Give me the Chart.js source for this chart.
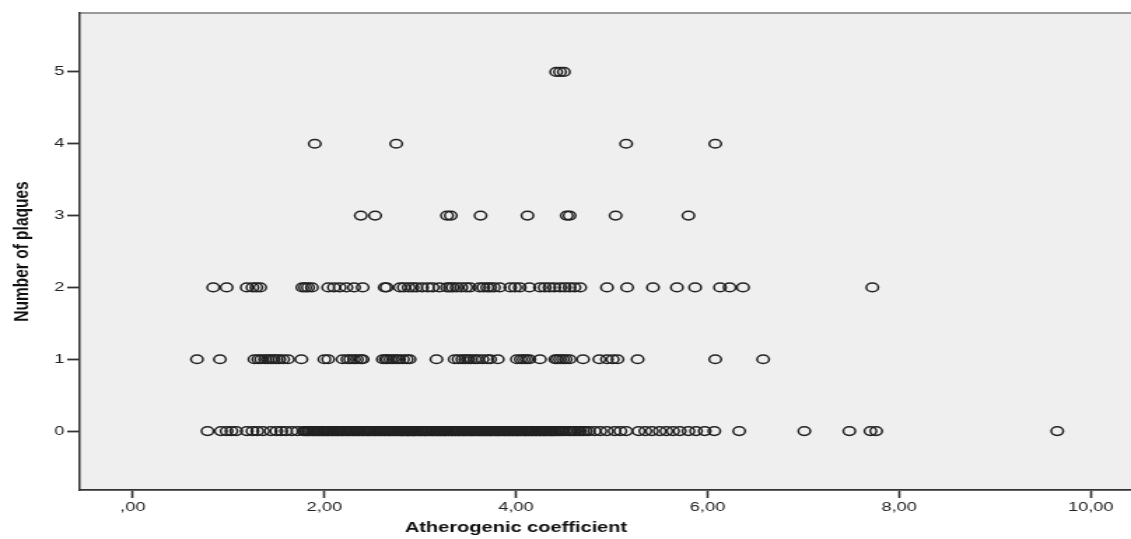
<!DOCTYPE html>
<html>
<head>
<meta charset="utf-8">
<script src="https://cdn.jsdelivr.net/npm/chart.js@4/dist/chart.umd.min.js"></script>
<style>
  html, body { margin: 0; padding: 0; background: #ffffff; overflow: hidden; }
  /* the reference is an SPSS plot stretched sideways, so draw narrow and stretch */
  #wrap {
    width: 808px;
    height: 539px;
    transform: scaleX(1.39975);
    transform-origin: 0 0;
  }
</style>
</head>
<body>
<div id="wrap"><canvas id="chart"></canvas></div>
<script>
/* Scatter: Atherogenic coefficient vs Number of plaques */

// x values (atherogenic coefficient) for each number of plaques
const plaques0 = [
  0.78, 0.92, 0.98, 1.03, 1.08, 1.19, 1.25, 1.30, 1.36, 1.44, 1.50, 1.55, 1.60, 1.66, 1.72, 1.78,
  1.80, 1.81, 1.83, 1.84, 1.86, 1.88, 1.89, 1.91, 1.93, 1.94, 1.96, 1.98, 1.99, 2.01, 2.03, 2.04,
  2.06, 2.08, 2.09, 2.11, 2.13, 2.14, 2.16, 2.18, 2.19, 2.21, 2.23, 2.25, 2.26, 2.28, 2.30, 2.31,
  2.33, 2.35, 2.36, 2.38, 2.40, 2.41, 2.43, 2.45, 2.46, 2.48, 2.50, 2.52, 2.53, 2.55, 2.57, 2.58,
  2.60, 2.62, 2.63, 2.65, 2.67, 2.68, 2.70, 2.72, 2.73, 2.75, 2.77, 2.79,
  2.80, 2.81, 2.82, 2.83, 2.85, 2.86, 2.87, 2.88, 2.89, 2.91, 2.92, 2.93, 2.94, 2.95, 2.97, 2.98,
  3.00, 3.01, 3.02, 3.04, 3.05, 3.06, 3.07, 3.09, 3.10, 3.12, 3.13, 3.14, 3.16, 3.17, 3.18, 3.20,
  3.21, 3.22, 3.24, 3.25, 3.26, 3.27, 3.29, 3.30, 3.32, 3.33, 3.34, 3.36, 3.37, 3.38, 3.40, 3.41,
  3.42, 3.44, 3.45, 3.46, 3.47, 3.49, 3.50, 3.52, 3.53, 3.54, 3.55, 3.57, 3.58, 3.60, 3.61, 3.62,
  3.64, 3.65, 3.66, 3.68, 3.69, 3.70, 3.72, 3.73, 3.74, 3.75, 3.77, 3.78, 3.80, 3.81, 3.82, 3.83,
  3.85, 3.86, 3.88, 3.89, 3.90, 3.92, 3.93, 3.94, 3.96, 3.97, 3.98, 4.00, 4.01, 4.02, 4.03, 4.05,
  4.06, 4.08, 4.09, 4.10, 4.11, 4.13, 4.14, 4.16, 4.17, 4.18, 4.20, 4.21, 4.22, 4.24, 4.25, 4.26,
  4.28, 4.29, 4.30, 4.31, 4.33, 4.34, 4.36, 4.37, 4.38, 4.40, 4.41, 4.43, 4.45, 4.47, 4.49, 4.52,
  4.55, 4.57, 4.60, 4.62, 4.65, 4.67, 4.70, 4.73,
  4.76, 4.82, 4.88, 4.95, 5.03, 5.09, 5.15, 5.28, 5.35, 5.42, 5.50, 5.57, 5.64, 5.71, 5.80, 5.88,
  5.97, 6.07, 6.33, 7.01, 7.48, 7.70, 7.76, 9.65
];
const plaques1 = [
  0.67, 0.91, 1.27, 1.31, 1.34, 1.38, 1.41, 1.44, 1.47, 1.50, 1.53, 1.57, 1.62, 1.76, 2.00, 2.04,
  2.19, 2.24, 2.27, 2.31, 2.34, 2.38, 2.40, 2.61, 2.64, 2.66, 2.69, 2.72, 2.75, 2.78, 2.82, 2.86,
  2.89, 3.17, 3.36, 3.40, 3.44, 3.47, 3.50, 3.53, 3.57, 3.60, 3.65, 3.70, 3.73, 3.81, 4.01, 4.05,
  4.08, 4.11, 4.14, 4.25, 4.41, 4.43, 4.46, 4.49, 4.52, 4.56, 4.70, 4.87, 4.95, 5.01, 5.06, 5.27,
  6.08, 6.58
];
const plaques2 = [
  0.84, 0.98, 1.19, 1.25, 1.29, 1.33, 1.77, 1.80, 1.83, 1.87, 2.04, 2.10, 2.16, 2.23, 2.31, 2.40,
  2.63, 2.65, 2.79, 2.83, 2.88, 2.92, 2.96, 3.02, 3.08, 3.13, 3.20, 3.28, 3.31, 3.34, 3.38, 3.43,
  3.48, 3.52, 3.62, 3.66, 3.70, 3.73, 3.77, 3.83, 3.94, 3.99, 4.04, 4.14, 4.25, 4.30, 4.35, 4.40,
  4.46, 4.51, 4.56, 4.61, 4.67, 4.95, 5.16, 5.43, 5.68, 5.87, 6.13, 6.23, 6.37, 7.72
];
const plaques3 = [2.38, 2.53, 3.28, 3.32, 3.63, 4.12, 4.53, 4.56, 5.04, 5.80];
const plaques4 = [1.90, 2.75, 5.15, 6.08];
const plaques5 = [4.42, 4.46, 4.50];

const plaqueCounts = [0, 1, 2, 3, 4, 5];
const plaqueGroups = [plaques0, plaques1, plaques2, plaques3, plaques4, plaques5];

const xTickValues = [0, 2, 4, 6, 8, 10];
const xTickLabels = [",00", "2,00", "4,00", "6,00", "8,00", "10,00"];
const yTickValues = [0, 1, 2, 3, 4, 5];
const yTickLabels = ["0", "1", "2", "3", "4", "5"];

const xTitle = "Atherogenic coefficient";
const yTitle = "Number of plaques";

// build point list
const points = [];
plaqueGroups.forEach((xs, i) => {
  xs.forEach((x) => points.push({ x: x, y: plaqueCounts[i] }));
});

const TICK_FONT = { family: "'Liberation Sans', Arial, sans-serif", size: 13 };

const plotFrame = {
  id: "plotFrame",
  beforeDraw(chart) {
    const { ctx, chartArea } = chart;
    ctx.save();
    ctx.fillStyle = "#ffffff";
    ctx.fillRect(0, 0, chart.width, chart.height);
    ctx.fillStyle = "#efefef";
    ctx.fillRect(chartArea.left, chartArea.top, chartArea.right - chartArea.left, chartArea.bottom - chartArea.top);
    ctx.strokeStyle = "#7a7a7a";
    ctx.lineWidth = 1.5;
    ctx.beginPath();
    ctx.moveTo(chartArea.left, chartArea.top);
    ctx.lineTo(chartArea.right, chartArea.top);
    ctx.stroke();
    ctx.restore();
  },
  afterDraw(chart) {
    // x title sits under the 4,00 tick in the reference, not mid-axis
    const { ctx } = chart;
    const xs = chart.scales.x;
    ctx.save();
    ctx.font = "bold 14.3px 'Liberation Sans', Arial, sans-serif";
    ctx.fillStyle = "#111111";
    ctx.textAlign = "center";
    ctx.textBaseline = "middle";
    ctx.fillText(xTitle, xs.getPixelForValue(4.0), 528);
    ctx.restore();
  }
};

new Chart(document.getElementById("chart").getContext("2d"), {
  type: "scatter",
  data: {
    datasets: [
      {
        data: points,
        pointStyle: "circle",
        pointRadius: 4.3,
        pointHoverRadius: 4.3,
        pointBorderWidth: 1.5,
        pointBackgroundColor: "rgba(0,0,0,0)",
        pointBorderColor: "#222222"
      }
    ]
  },
  options: {
    responsive: true,
    maintainAspectRatio: false,
    animation: false,
    layout: { autoPadding: false, padding: { top: 13, right: 0, left: 0, bottom: 0 } },
    plugins: {
      legend: { display: false },
      tooltip: { enabled: false }
    },
    scales: {
      x: {
        type: "linear",
        min: -0.553,
        max: 10.42,
        afterBuildTicks: (scale) => {
          scale.ticks = xTickValues.map((v) => ({ value: v }));
        },
        afterFit: (scale) => {
          scale.height = 49;
        },
        ticks: {
          font: TICK_FONT,
          color: "#222222",
          padding: 2,
          maxRotation: 0,
          callback: (value) => xTickLabels[xTickValues.indexOf(value)]
        },
        grid: {
          drawOnChartArea: false,
          drawTicks: true,
          tickLength: 8,
          tickWidth: 1.6,
          tickColor: "#333333"
        },
        border: { display: true, color: "#333333", width: 1.8 }
      },
      y: {
        type: "linear",
        min: -0.82,
        max: 5.82,
        afterBuildTicks: (scale) => {
          scale.ticks = yTickValues.map((v) => ({ value: v }));
        },
        afterFit: (scale) => {
          scale.width = 57;
        },
        ticks: {
          font: TICK_FONT,
          color: "#222222",
          padding: 2,
          callback: (value) => yTickLabels[yTickValues.indexOf(value)]
        },
        grid: {
          drawOnChartArea: false,
          drawTicks: true,
          tickLength: 9,
          tickWidth: 1.8,
          tickColor: "#333333"
        },
        border: { display: true, color: "#333333", width: 1.5 },
        title: {
          display: true,
          text: yTitle,
          color: "#111111",
          font: { family: "'Liberation Sans', Arial, sans-serif", size: 15.5, weight: "bold" },
          padding: { top: 6, bottom: 0 }
        }
      }
    }
  },
  plugins: [plotFrame]
});
</script>
</body>
</html>
